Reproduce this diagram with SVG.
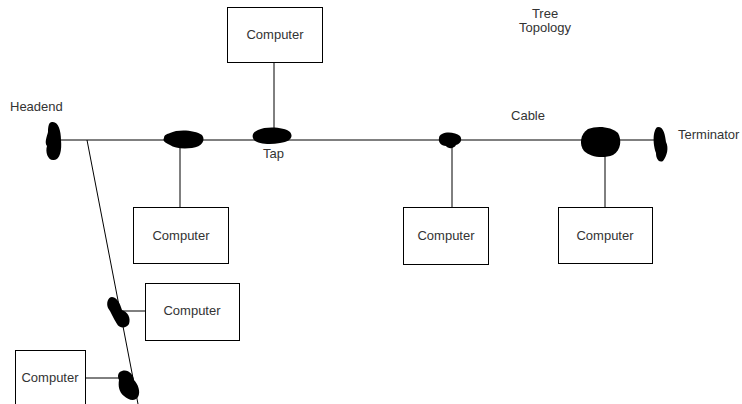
<svg xmlns="http://www.w3.org/2000/svg" width="742" height="404" viewBox="0 0 742 404">
<style>
.box{fill:#fff;stroke:#000;stroke-width:1}
.ln{stroke:#000;stroke-width:1;fill:none}
.t{font-family:"Liberation Sans",Arial,sans-serif;font-size:13px;fill:#333}
.blob{fill:#000}
</style>
<rect width="742" height="404" fill="#fff"/>
<g id="connectors">
<line class="ln" x1="55" y1="140" x2="660" y2="140"/>
<line class="ln" x1="87" y1="140" x2="138" y2="404"/>
<line class="ln" x1="274" y1="62" x2="274" y2="134"/>
<line class="ln" x1="180" y1="140" x2="180" y2="207"/>
<line class="ln" x1="452" y1="140" x2="452" y2="207"/>
<line class="ln" x1="605" y1="140" x2="605" y2="207"/>
<line class="ln" x1="120" y1="311" x2="145" y2="311"/>
<line class="ln" x1="85" y1="378" x2="120" y2="378"/>
</g>
<g id="headend">
<path class="blob" d="M52,122 C58,121 61,130 61,140 C62,150 60,160 54,160 C48,161 45,152 47,146 C44,143 47,136 48,132 C48,126 49,122 52,122 Z"/>
<text class="t" x="10" y="111">Headend</text>
</g>
<g id="tap1">
<path class="blob" d="M170,133 C178,129 195,130 202,135 C206,140 202,147 192,148 C182,149 174,148 170,145 C166,143 162,141 164,138 C164,135 167,134 170,133 Z"/>
</g>
<g id="tap2">
<path class="blob" d="M258,130 C266,126 285,127 290,132 C294,137 290,142 280,143 C270,145 258,144 254,140 C251,136 253,132 258,130 Z"/>
<text class="t" x="263" y="158">Tap</text>
</g>
<g id="tap3">
<path class="blob" d="M442,134 C448,131 456,133 460,136 C463,140 460,144 456,145 C454,149 448,149 446,146 C441,146 438,142 439,138 C439,136 440,135 442,134 Z"/>
</g>
<g id="tap4">
<path class="blob" d="M588,129 C598,125 612,127 618,133 C622,140 621,150 613,155 C603,159 590,157 584,151 C579,145 580,134 588,129 Z"/>
</g>
<g id="terminator">
<path class="blob" d="M658,127 C664,127 665,135 666,142 C669,148 667,156 663,161 C659,163 656,159 656,153 C654,148 653,140 654,134 C655,130 656,127 658,127 Z"/>
<text class="t" x="678" y="139">Terminator</text>
</g>
<g id="branch-tap1">
<path class="blob" d="M112,297 C118,298 120,304 122,310 C128,312 131,318 129,324 C126,329 119,328 117,324 C113,318 111,312 108,308 C106,303 108,297 112,297 Z"/>
</g>
<g id="branch-tap2">
<path class="blob" d="M122,371 C128,369 133,374 134,380 C138,384 141,392 138,397 C135,402 128,400 124,396 C119,392 118,386 119,380 C117,376 118,372 122,371 Z"/>
</g>
<g id="computer-top">
<rect class="box" x="227.5" y="7.5" width="95" height="55"/>
<text class="t" x="275" y="39" text-anchor="middle">Computer</text>
</g>
<g id="computer-1">
<rect class="box" x="133.5" y="207.5" width="95" height="56"/>
<text class="t" x="181" y="240" text-anchor="middle">Computer</text>
</g>
<g id="computer-2">
<rect class="box" x="403.5" y="207.5" width="85" height="57"/>
<text class="t" x="446" y="240" text-anchor="middle">Computer</text>
</g>
<g id="computer-3">
<rect class="box" x="558.5" y="207.5" width="94" height="56"/>
<text class="t" x="605" y="240" text-anchor="middle">Computer</text>
</g>
<g id="computer-4">
<rect class="box" x="145.5" y="283.5" width="94" height="57"/>
<text class="t" x="192" y="315" text-anchor="middle">Computer</text>
</g>
<g id="computer-5">
<rect class="box" x="15.5" y="350.5" width="70" height="60"/>
<text class="t" x="50" y="382" text-anchor="middle">Computer</text>
</g>
<g id="title">
<text class="t" x="545" y="18" text-anchor="middle">Tree</text>
<text class="t" x="545" y="32" text-anchor="middle">Topology</text>
</g>
<g id="cable-label">
<text class="t" x="528" y="120" text-anchor="middle">Cable</text>
</g>
</svg>
